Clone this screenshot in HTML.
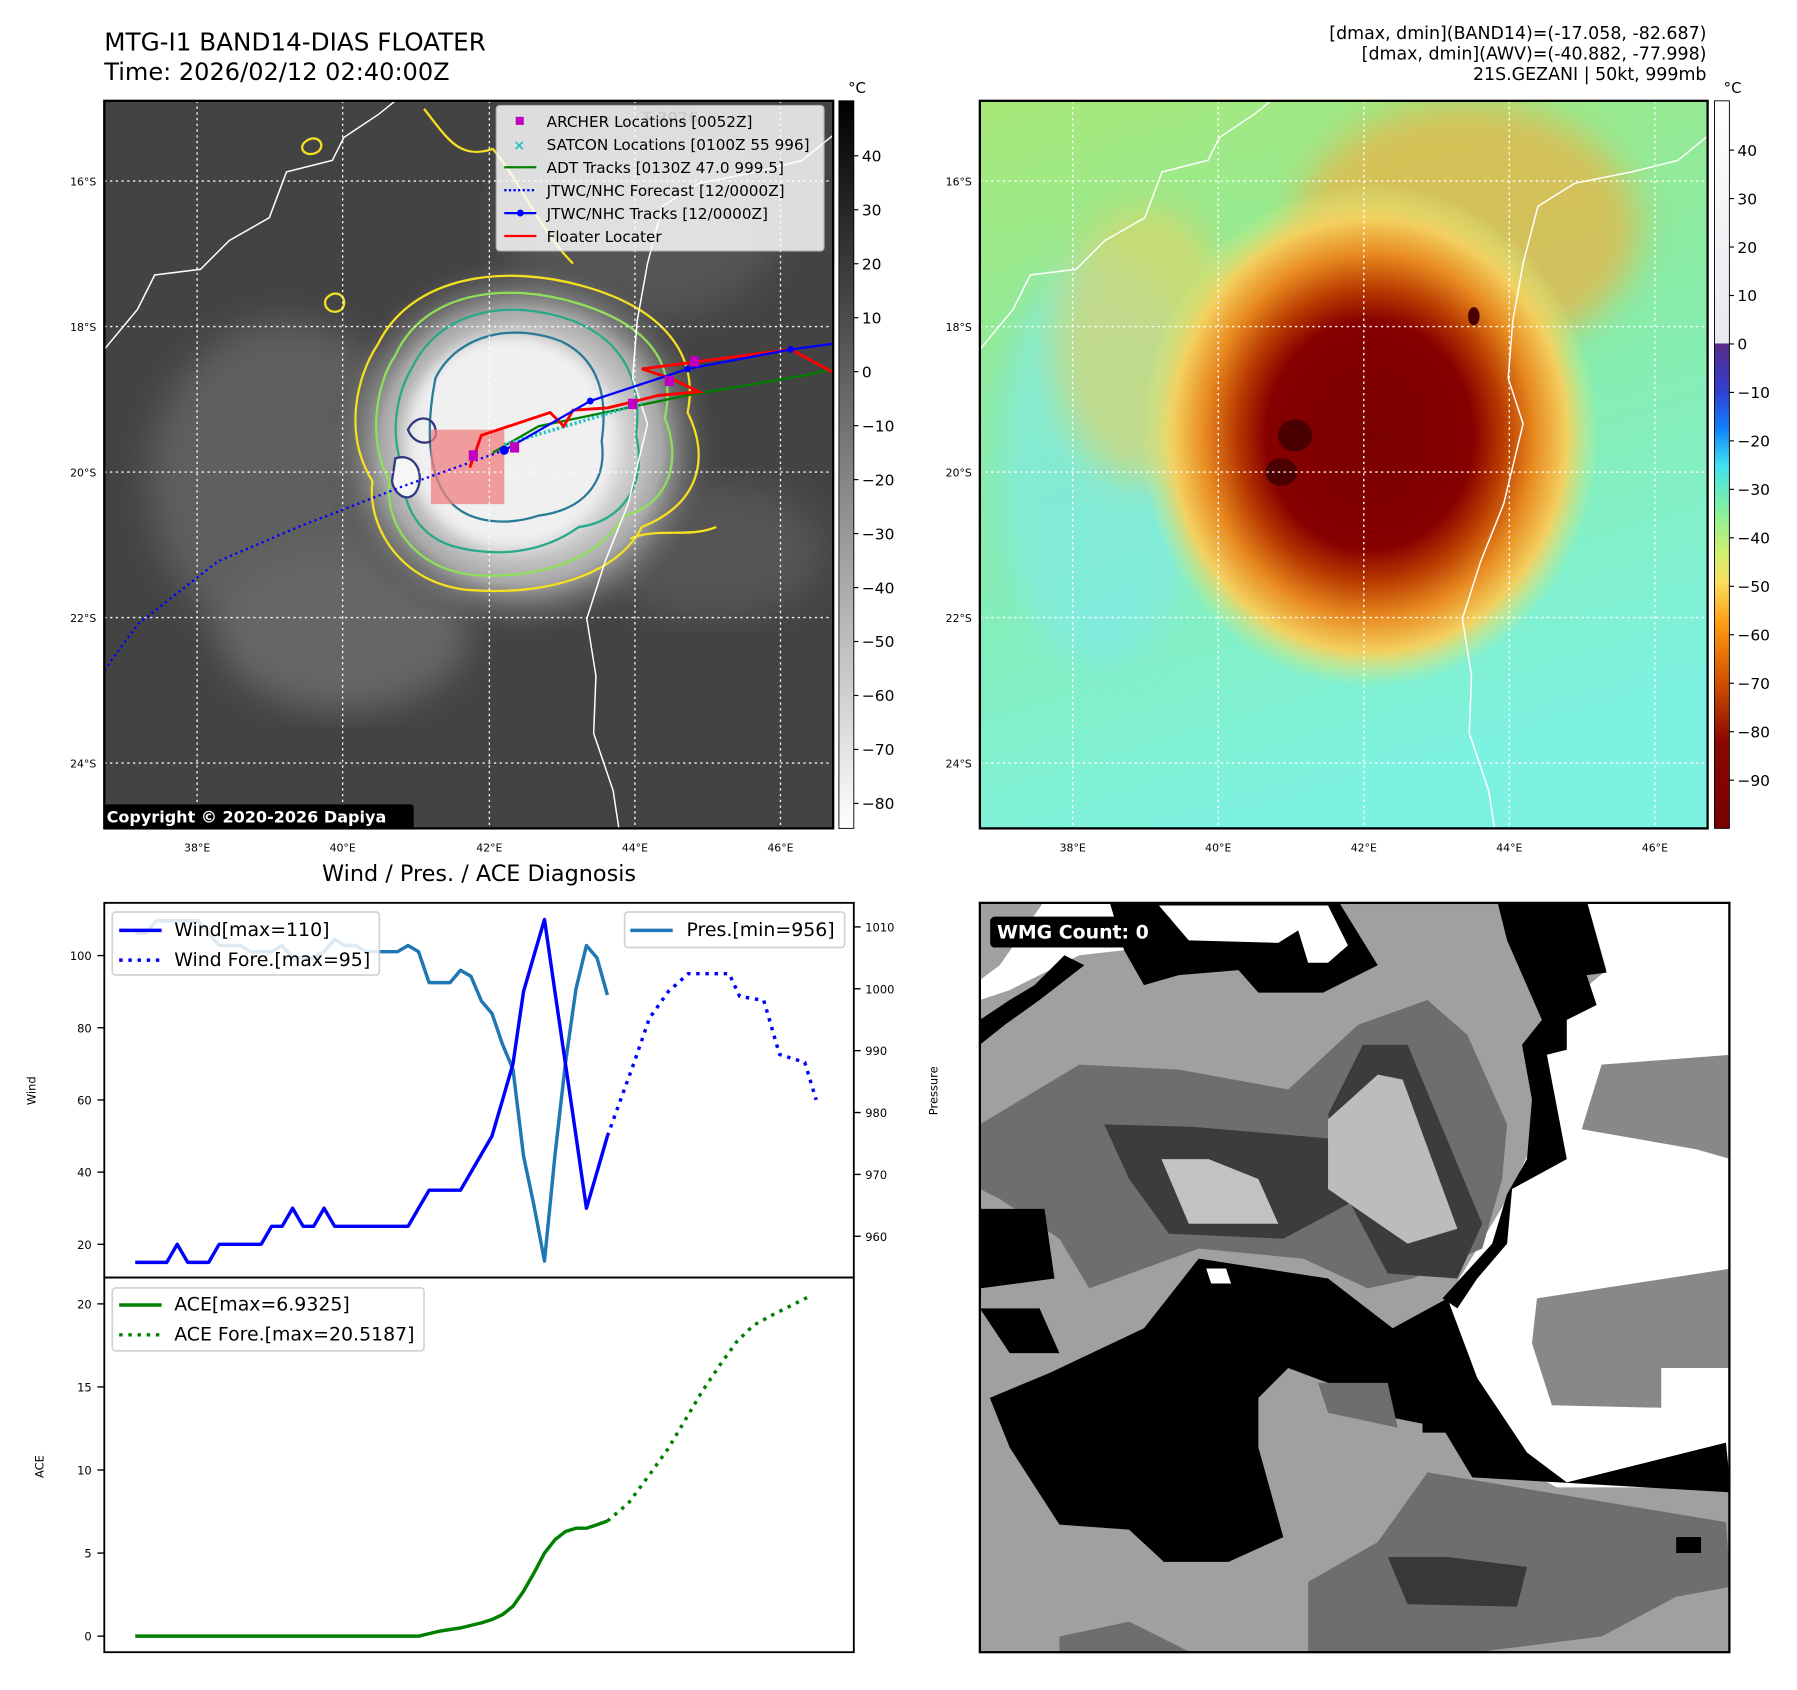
<!DOCTYPE html>
<html><head><meta charset="utf-8">
<style>
html,body{margin:0;padding:0;background:#fff;}
svg{display:block;font-family:"DejaVu Sans","Liberation Sans",sans-serif;}
</style></head>
<body>
<svg id="root" width="1797" height="1690" viewBox="0 0 1568 1475" preserveAspectRatio="none" xmlns="http://www.w3.org/2000/svg">
<defs>
  <radialGradient id="stormGray" cx="0.5" cy="0.5" r="0.5">
    <stop offset="0" stop-color="#f4f4f4"/>
    <stop offset="0.45" stop-color="#e2e2e2"/>
    <stop offset="0.7" stop-color="#a8a8a8"/>
    <stop offset="1" stop-color="#454545" stop-opacity="0"/>
  </radialGradient>
  <radialGradient id="stormColor" cx="0.5" cy="0.5" r="0.5">
    <stop offset="0" stop-color="#7a0000"/>
    <stop offset="0.45" stop-color="#860000"/>
    <stop offset="0.58" stop-color="#b83a00"/>
    <stop offset="0.72" stop-color="#e88a20"/>
    <stop offset="0.86" stop-color="#f3d060"/>
    <stop offset="1" stop-color="#d8f080" stop-opacity="0"/>
  </radialGradient>
  <linearGradient id="bgColor" x1="0" y1="0" x2="0.3" y2="1">
    <stop offset="0" stop-color="#a8e878"/>
    <stop offset="0.5" stop-color="#88eca8"/>
    <stop offset="1" stop-color="#7ef2e0"/>
  </linearGradient>
  <linearGradient id="cbGray" x1="0" y1="0" x2="0" y2="1">
    <stop offset="0" stop-color="#000"/>
    <stop offset="1" stop-color="#fff"/>
  </linearGradient>
  <linearGradient id="cbJet" x1="0" y1="0" x2="0" y2="1">
    <stop offset="0" stop-color="#ffffff"/>
    <stop offset="0.333" stop-color="#e8e8ee"/>
    <stop offset="0.334" stop-color="#5a2a8a"/>
    <stop offset="0.40" stop-color="#3040d0"/>
    <stop offset="0.45" stop-color="#1080ff"/>
    <stop offset="0.50" stop-color="#40e0f0"/>
    <stop offset="0.56" stop-color="#80f0a0"/>
    <stop offset="0.62" stop-color="#d0f070"/>
    <stop offset="0.66" stop-color="#f8e060"/>
    <stop offset="0.72" stop-color="#ff9a10"/>
    <stop offset="0.80" stop-color="#d05000"/>
    <stop offset="0.88" stop-color="#8a0800"/>
    <stop offset="1" stop-color="#7a0000"/>
  </linearGradient>
  <filter id="blur6"><feGaussianBlur stdDeviation="6"/></filter>
  <filter id="blur15"><feGaussianBlur stdDeviation="15"/></filter>
  <clipPath id="clipL"><rect x="91" y="88" width="636" height="635"/></clipPath>
  <clipPath id="clipR"><rect x="855" y="88" width="635" height="635"/></clipPath>
  <clipPath id="clipW"><rect x="855" y="788" width="654" height="654"/></clipPath>
</defs>

<!-- Titles -->
<text x="91" y="44" font-size="21.5">MTG-I1 BAND14-DIAS FLOATER</text>
<text x="91" y="70" font-size="21">Time: 2026/02/12 02:40:00Z</text>
<g font-size="15.2" text-anchor="end">
<text x="1489" y="34">[dmax, dmin](BAND14)=(-17.058, -82.687)</text>
<text x="1489" y="52">[dmax, dmin](AWV)=(-40.882, -77.998)</text>
<text x="1489" y="70">21S.GEZANI | 50kt, 999mb</text>
</g>

<!-- LEFT MAP -->
<g clip-path="url(#clipL)">
  <rect x="91" y="88" width="636" height="635" fill="#434343"/>
  <ellipse cx="250" cy="420" rx="120" ry="140" fill="#5e5e5e" filter="url(#blur15)"/>
  <ellipse cx="300" cy="550" rx="110" ry="70" fill="#666" filter="url(#blur15)"/>
  <ellipse cx="560" cy="200" rx="120" ry="80" fill="#555" filter="url(#blur15)"/>
  <ellipse cx="620" cy="480" rx="100" ry="60" fill="#555" filter="url(#blur15)"/>
  <ellipse cx="455" cy="390" rx="175" ry="170" fill="url(#stormGray)"/>
  <ellipse cx="445" cy="385" rx="90" ry="92" fill="#f0f0f0" filter="url(#blur6)"/>
  <g fill="none" stroke-width="2">
    <path d="M330,300 C360,240 440,230 510,250 C580,270 610,310 600,360 C620,400 610,440 560,460 C540,500 480,520 410,515 C350,510 320,460 325,420 C300,380 310,330 330,300Z" stroke="#f5e020"/>
    <path d="M345,310 C370,255 440,245 505,265 C570,285 590,320 580,365 C595,400 585,440 545,450 C520,490 470,505 415,502 C360,497 335,455 340,420 C320,385 328,335 345,310Z" stroke="#8ee05a"/>
    <path d="M360,320 C385,270 445,260 500,280 C550,300 560,340 555,380 C565,420 545,455 505,460 C470,485 430,485 400,478 C365,470 350,440 352,410 C340,380 345,345 360,320Z" stroke="#2aa88a"/>
    <path d="M380,330 C400,290 450,282 490,298 C525,315 530,350 525,385 C530,420 510,445 470,450 C440,460 410,455 395,440 C375,420 370,380 380,330Z" stroke="#2a7a98"/>
    <path d="M356,375 C362,362 378,362 380,375 C384,388 362,392 356,375Z" stroke="#303880"/>
    <path d="M345,400 C360,395 370,410 365,425 C360,440 345,435 342,420Z" stroke="#303880" fill="#f6f6f6"/>
    <path d="M265,125 C275,115 285,125 278,132 C270,138 260,132 265,125Z" stroke="#f5e020"/>
    <path d="M285,260 C295,250 305,262 298,270 C290,276 280,268 285,260Z" stroke="#f5e020"/>
    <path d="M370,95 C390,120 400,140 430,130 C455,160 470,200 500,230" stroke="#f5e020"/>
    <path d="M550,470 C575,460 600,470 625,460" stroke="#f5e020"/>
  </g>
  <rect x="376" y="375" width="64" height="65" fill="#f08080" opacity="0.75"/>
  <g fill="none" stroke="#fff" stroke-width="1.3">
    <path d="M91,305 L120,270 L135,240 L175,235 L200,210 L235,190 L250,150 L290,140 L300,120 L330,100 L345,88"/>
    <path d="M727,118 L700,140 L660,150 L610,160 L578,180 L565,230 L556,280 L552,330 L565,370 L548,440 L528,490 L512,540 L520,590 L518,640 L535,690 L540,723"/>
  </g>
  <g stroke="#fff" stroke-width="1.2" stroke-dasharray="2 3" opacity="0.95">
    <line x1="91" y1="158" x2="727" y2="158"/><line x1="91" y1="285" x2="727" y2="285"/><line x1="91" y1="412" x2="727" y2="412"/><line x1="91" y1="539" x2="727" y2="539"/><line x1="91" y1="666" x2="727" y2="666"/>
    <line x1="172" y1="88" x2="172" y2="723"/><line x1="299" y1="88" x2="299" y2="723"/><line x1="427" y1="88" x2="427" y2="723"/><line x1="554" y1="88" x2="554" y2="723"/><line x1="681" y1="88" x2="681" y2="723"/>
  </g>
  <polyline points="91,585 120,545 190,490 260,460 350,425 440,393" fill="none" stroke="#0000ff" stroke-width="2" stroke-dasharray="2 3"/>
  <polyline points="430,395 470,372 600,345 700,328 727,322" fill="none" stroke="#008000" stroke-width="2"/>
  <polyline points="440,388 560,352" fill="none" stroke="#20c0c0" stroke-width="3" stroke-dasharray="2 2"/>
  <polyline points="410,408 420,380 480,360 492,372 500,358 530,356 555,350 575,345 610,342 585,330 560,322 690,305 727,325" fill="none" stroke="#ff0000" stroke-width="2.5"/>
  <polyline points="440,393 515,350 600,322 690,305 727,300" fill="none" stroke="#0000ff" stroke-width="2"/>
  <g fill="#0000ff"><circle cx="440" cy="393" r="4"/><circle cx="515" cy="350" r="3"/><circle cx="600" cy="322" r="3"/><circle cx="690" cy="305" r="3"/></g>
  <g fill="#c000c0"><rect x="409" y="393" width="8" height="9"/><rect x="445" y="386" width="8" height="9"/><rect x="548" y="348" width="8" height="9"/><rect x="602" y="311" width="8" height="9"/><rect x="580" y="328" width="8" height="9"/></g>
  <g>
    <rect x="433" y="92" width="286" height="127" fill="#fff" opacity="0.82" rx="3" stroke="#ccc"/>
    <text x="560" y="107" font-size="13" fill="#ccc" font-weight="bold">T 2026</text>
    <g font-size="13.3" fill="#000">
      <rect x="450" y="102" width="7" height="7" fill="#c000c0"/><text x="477" y="111">ARCHER Locations [0052Z]</text>
      <text x="448" y="131" fill="#20c0c0" font-size="12" font-weight="bold">×</text><text x="477" y="131">SATCON Locations [0100Z 55 996]</text>
      <line x1="440" y1="146" x2="468" y2="146" stroke="#008000" stroke-width="2"/><text x="477" y="151">ADT Tracks [0130Z 47.0 999.5]</text>
      <line x1="440" y1="166" x2="468" y2="166" stroke="#0000ff" stroke-width="2" stroke-dasharray="2 2"/><text x="477" y="171">JTWC/NHC Forecast [12/0000Z]</text>
      <line x1="440" y1="186" x2="468" y2="186" stroke="#0000ff" stroke-width="2"/><circle cx="454" cy="186" r="3" fill="#0000ff"/><text x="477" y="191">JTWC/NHC Tracks [12/0000Z]</text>
      <line x1="440" y1="206" x2="468" y2="206" stroke="#ff0000" stroke-width="2"/><text x="477" y="211">Floater Locater</text>
    </g>
  </g>
  <rect x="89" y="702" width="272" height="22" rx="3" fill="#000"/>
  <text x="93" y="718" font-size="14" font-weight="bold" fill="#fff">Copyright © 2020-2026 Dapiya</text>
</g>
<rect x="91" y="88" width="636" height="635" fill="none" stroke="#000" stroke-width="2"/>
<g font-size="9.5" fill="#000">
  <g text-anchor="end"><text x="84" y="162">16°S</text><text x="84" y="289">18°S</text><text x="84" y="416">20°S</text><text x="84" y="543">22°S</text><text x="84" y="670">24°S</text></g>
  <g text-anchor="middle"><text x="172" y="743">38°E</text><text x="299" y="743">40°E</text><text x="427" y="743">42°E</text><text x="554" y="743">44°E</text><text x="681" y="743">46°E</text></g>
</g>
<rect x="732" y="88" width="13" height="635" fill="url(#cbGray)" stroke="#000" stroke-width="0.8"/>
<text x="740" y="81" font-size="13">°C</text>
<g id="cbL" font-size="13.5"></g>

<!-- RIGHT MAP -->
<g clip-path="url(#clipR)">
  <rect x="855" y="88" width="635" height="635" fill="url(#bgColor)"/>
  <ellipse cx="960" cy="400" rx="90" ry="180" fill="#80eaf0" opacity="0.6" filter="url(#blur15)"/>
  <ellipse cx="1280" cy="200" rx="150" ry="110" fill="#f0b040" opacity="0.7" filter="url(#blur15)"/>
  <ellipse cx="1000" cy="300" rx="80" ry="120" fill="#e8d060" opacity="0.6" filter="url(#blur15)"/>
  <ellipse cx="1195" cy="380" rx="200" ry="220" fill="url(#stormColor)"/>
  <ellipse cx="1130" cy="380" rx="15" ry="14" fill="#4a0000"/>
  <ellipse cx="1118" cy="412" rx="14" ry="12" fill="#4a0000"/>
  <ellipse cx="1286" cy="276" rx="5" ry="8" fill="#4a0000"/>
  <g fill="none" stroke="#fff" stroke-width="1.3">
    <path d="M855,305 L884,270 L899,240 L939,235 L964,210 L999,190 L1014,150 L1054,140 L1064,120 L1094,100 L1109,88"/>
    <path d="M1491,118 L1464,140 L1424,150 L1374,160 L1342,180 L1329,230 L1320,280 L1316,330 L1329,370 L1312,440 L1292,490 L1276,540 L1284,590 L1282,640 L1299,690 L1304,723"/>
  </g>
  <g stroke="#fff" stroke-width="1.2" stroke-dasharray="2 3">
    <line x1="855" y1="158" x2="1490" y2="158"/><line x1="855" y1="285" x2="1490" y2="285"/><line x1="855" y1="412" x2="1490" y2="412"/><line x1="855" y1="539" x2="1490" y2="539"/><line x1="855" y1="666" x2="1490" y2="666"/>
    <line x1="936" y1="88" x2="936" y2="723"/><line x1="1063" y1="88" x2="1063" y2="723"/><line x1="1190" y1="88" x2="1190" y2="723"/><line x1="1317" y1="88" x2="1317" y2="723"/><line x1="1444" y1="88" x2="1444" y2="723"/>
  </g>
</g>
<rect x="855" y="88" width="635" height="635" fill="none" stroke="#000" stroke-width="2"/>
<g font-size="9.5" fill="#000">
  <g text-anchor="end"><text x="848" y="162">16°S</text><text x="848" y="289">18°S</text><text x="848" y="416">20°S</text><text x="848" y="543">22°S</text><text x="848" y="670">24°S</text></g>
  <g text-anchor="middle"><text x="936" y="743">38°E</text><text x="1063" y="743">40°E</text><text x="1190" y="743">42°E</text><text x="1317" y="743">44°E</text><text x="1444" y="743">46°E</text></g>
</g>
<rect x="1496" y="88" width="13" height="635" fill="url(#cbJet)" stroke="#000" stroke-width="0.8"/>
<text x="1504" y="81" font-size="13">°C</text>
<g id="cbR" font-size="13.5"></g>

<!-- WMG panel -->
<g clip-path="url(#clipW)">
 <g transform="translate(855,786) scale(0.434)">
  <rect x="0" y="0" width="1510" height="1520" fill="#a0a0a0"/>
  <polygon fill="#fff" points="1220,0 1510,0 1510,1180 1160,1180 1050,1120 940,800 1060,600 1140,430 1100,300 1140,240 1260,140"/>
  <polygon fill="#888" points="1250,330 1510,310 1510,520 1440,500 1210,460"/>
  <polygon fill="#888" points="1120,800 1510,740 1510,940 1370,940 1370,1020 1150,1015 1110,890"/>
  <polygon fill="#000" points="1040,0 1220,0 1260,145 1220,150 1240,210 1180,240 1180,300 1140,310 1180,520 1070,580 1060,690 1000,760 960,820 930,800 1030,690 1060,590 1100,520 1110,400 1090,290 1130,240 1060,80"/>
  <polygon fill="#fff" points="130,0 260,0 290,100 200,110 60,180 0,200 0,160 40,130"/>
  <polygon fill="#000" points="260,0 720,0 800,130 690,185 560,185 520,140 400,150 330,170 290,100"/>
  <polygon fill="#fff" points="360,10 700,10 740,90 700,125 660,125 640,60 600,85 420,80"/>
  <polygon fill="#000" points="0,240 60,200 110,170 170,110 210,130 120,200 50,250 0,290"/>
  <polygon fill="#6e6e6e" points="0,450 200,330 400,340 620,380 760,250 900,200 980,270 1060,450 1050,560 1010,700 870,760 780,780 650,720 440,700 220,780 160,680 40,600 0,580"/>
  <polygon fill="#3c3c3c" points="250,450 430,455 720,480 760,600 610,680 380,670 300,560"/>
  <polygon fill="#3c3c3c" points="770,290 860,290 1010,650 960,760 820,750 740,600 700,430"/>
  <polygon fill="#c2c2c2" points="365,520 460,520 560,560 600,650 420,650"/>
  <polygon fill="#bcbcbc" points="700,440 800,350 850,360 960,660 860,690 700,580"/>
  <polygon fill="#000" points="0,620 130,620 150,760 0,780"/>
  <polygon fill="#000" points="0,820 120,820 160,910 60,910"/>
  <polygon fill="#000" points="60,1100 20,1000 140,950 330,860 440,720 700,760 830,860 940,800 1000,960 1100,1110 1180,1170 1500,1090 1510,1190 990,1160 930,1060 830,1040 780,1000 620,940 560,1000 560,1100 610,1280 500,1330 370,1330 300,1265 160,1255"/>
  <polygon fill="#fff" points="455,740 495,740 505,770 465,770"/>
  <polygon fill="#6e6e6e" points="680,970 820,970 840,1060 700,1030"/>
  <polygon fill="#6e6e6e" points="660,1370 800,1290 900,1150 1200,1200 1500,1250 1510,1380 1400,1400 1250,1480 930,1520 660,1520"/>
  <polygon fill="#383838" points="820,1320 940,1320 1100,1340 1080,1420 860,1415"/>
  <polygon fill="#6e6e6e" points="160,1480 300,1450 440,1520 160,1520"/>
  <rect x="1400" y="1280" width="50" height="32" fill="#000"/>
  <rect x="890" y="1040" width="50" height="30" fill="#000"/>
 </g>
 <rect x="864" y="800" width="158" height="27" rx="4" fill="#000"/>
 <text x="870" y="819" font-size="16.5" font-weight="bold" fill="#fff">WMG Count: 0</text>
</g>
<rect x="855" y="788" width="654" height="654" fill="none" stroke="#000" stroke-width="2"/>

<!-- Diagnosis chart -->
<text x="418" y="769" font-size="19.5" text-anchor="middle">Wind / Pres. / ACE Diagnosis</text>
<g id="chart"></g>
<rect x="91" y="788" width="654" height="327" fill="none" stroke="#000" stroke-width="1.6"/>
<rect x="91" y="1115" width="654" height="327" fill="none" stroke="#000" stroke-width="1.6"/>
<text x="31" y="952" font-size="10" transform="rotate(-90 31 952)" text-anchor="middle">Wind</text>
<text x="818" y="952" font-size="10" transform="rotate(-90 818 952)" text-anchor="middle">Pressure</text>
<text x="38" y="1280" font-size="10" transform="rotate(-90 38 1280)" text-anchor="middle">ACE</text>

<g>
  <rect x="98" y="796" width="233" height="55" fill="#fff" opacity="0.85" stroke="#ccc" stroke-width="1.5" rx="3"/>
  <line x1="104" y1="812" x2="141" y2="812" stroke="#0000ff" stroke-width="3"/>
  <text x="152" y="817" font-size="16.5">Wind[max=110]</text>
  <line x1="104" y1="838" x2="141" y2="838" stroke="#0000ff" stroke-width="3" stroke-dasharray="3 5"/>
  <text x="152" y="843" font-size="16.5">Wind Fore.[max=95]</text>
</g>
<g>
  <rect x="545" y="796" width="192" height="31" fill="#fff" opacity="0.85" stroke="#ccc" stroke-width="1.5" rx="3"/>
  <line x1="550" y1="812" x2="587" y2="812" stroke="#1f77b4" stroke-width="3"/>
  <text x="599" y="817" font-size="16.5">Pres.[min=956]</text>
</g>
<g>
  <rect x="98" y="1124" width="272" height="55" fill="#fff" opacity="0.85" stroke="#ccc" stroke-width="1.5" rx="3"/>
  <line x1="104" y1="1139" x2="141" y2="1139" stroke="#008000" stroke-width="3"/>
  <text x="152" y="1144" font-size="16.5">ACE[max=6.9325]</text>
  <line x1="104" y1="1165" x2="141" y2="1165" stroke="#008000" stroke-width="3" stroke-dasharray="3 5"/>
  <text x="152" y="1170" font-size="16.5">ACE Fore.[max=20.5187]</text>
</g>
</svg>

<script>
// ---- chart data ----
const windObs = [15,15,15,15,20,15,15,15,20,20,20,20,20,25,25,30,25,25,30,25,25,25,25,25,25,25,25,30,35,35,35,35,40,45,50,60,70,90,100,110,90,70,50,30,40,50];
const presObs = [1009,1009,1011,1011,1011,1011,1011,1009,1007,1007,1007,1006,1006,1006,1007,1005,1005,1005,1006,1008,1007,1007,1006,1006,1006,1006,1007,1006,1001,1001,1001,1003,1002,998,996,991,987,973,965,956,973,988,1000,1007,1005,999];
const aceObs = [0,0,0,0,0,0,0,0,0,0,0,0,0,0,0,0,0,0,0,0,0,0,0,0,0,0,0,0,0.15,0.3,0.4,0.5,0.65,0.8,1.0,1.3,1.8,2.7,3.8,5.0,5.8,6.3,6.5,6.5,6.7,6.93];
const windForeT = [45,47.5,49,50.8,52.7,56.6,57.6,59.9,61.4,63.8,64.9];
const windFore = [50,70,82.6,90,95,95,88.7,87.6,72.6,70.4,60];
const aceForeT = [45,47,49.1,50.8,52.4,54,55.7,57.3,58.9,60.6,62.2,64.4];
const aceFore = [6.93,8,9.8,11.3,13,14.7,16.3,17.7,18.7,19.3,19.8,20.5];
const windTicks = [20,40,60,80,100];
const presTicks = [960,970,980,990,1000,1010];
const aceTicks = [0,5,10,15,20];
const cbLTicks = [40,30,20,10,0,-10,-20,-30,-40,-50,-60,-70,-80];
const cbRTicks = [40,30,20,10,0,-10,-20,-30,-40,-50,-60,-70,-80,-90];

const NS = "http://www.w3.org/2000/svg";
const xT = t => 118 + t * 9.156;
const yW = v => 1086 - (v - 20) * 3.15;
const yP = p => 1079 - (p - 960) * 5.4;
const yA = v => 1428 - v * 14.5;
const chart = document.getElementById('chart');

function mk(tag, attrs, parent) {
  const e = document.createElementNS(NS, tag);
  for (const k in attrs) e.setAttribute(k, attrs[k]);
  parent.appendChild(e);
  return e;
}
function line(ts, vs, yf, color, dash, name) {
  const pts = vs.map((v, i) => xT(ts[i]).toFixed(1) + ',' + yf(v).toFixed(1)).join(' ');
  const p = mk('polyline', {points: pts, fill: 'none', stroke: color, 'stroke-width': 3, 'stroke-linejoin': 'round'}, chart);
  if (dash) p.setAttribute('stroke-dasharray', '3 5');
  
  
}
const idx = windObs.map((_, i) => i);
line(idx, presObs, yP, '#1f77b4', null, 'pressure-line');
line(idx, windObs, yW, '#0000ff', null, 'wind-line');
line(windForeT, windFore, yW, '#0000ff', true, 'wind-forecast-line');
line(idx, aceObs, yA, '#008000', null, 'ace-line');
line(aceForeT, aceFore, yA, '#008000', true, 'ace-forecast-line');

function ticks(arr, yf, side, name) {
  arr.forEach(v => {
    const y = yf(v);
    const x0 = side === 'L' ? 91 : 745;
    const x1 = side === 'L' ? 85 : 751;
    const l = mk('line', {x1: x0, y1: y, x2: x1, y2: y, stroke: '#000', 'stroke-width': 1.2}, chart);
    
    
    const t = mk('text', {x: side === 'L' ? 80 : 755, y: y + 4, 'font-size': 10, 'text-anchor': side === 'L' ? 'end' : 'start'}, chart);
    t.textContent = v;
    
    
  });
}
ticks(windTicks, yW, 'L', 'wind-axis');
ticks(presTicks, yP, 'R', 'pressure-axis');
ticks(aceTicks, yA, 'L', 'ace-axis');

function cbTicks(id, arr, yf, x) {
  const g = document.getElementById(id);
  arr.forEach(v => {
    const y = yf(v);
    const l = mk('line', {x1: x, y1: y, x2: x + 4, y2: y, stroke: '#000', 'stroke-width': 1}, g);
    
    
    const t = mk('text', {x: x + 7, y: y + 5}, g);
    t.textContent = v < 0 ? '\u2212' + Math.abs(v) : String(v);
    
    
  });
}
cbTicks('cbL', cbLTicks, v => 136 + (40 - v) * 4.71, 745);
cbTicks('cbR', cbRTicks, v => 131 + (40 - v) * 4.23, 1509);
</script>
</body></html>
